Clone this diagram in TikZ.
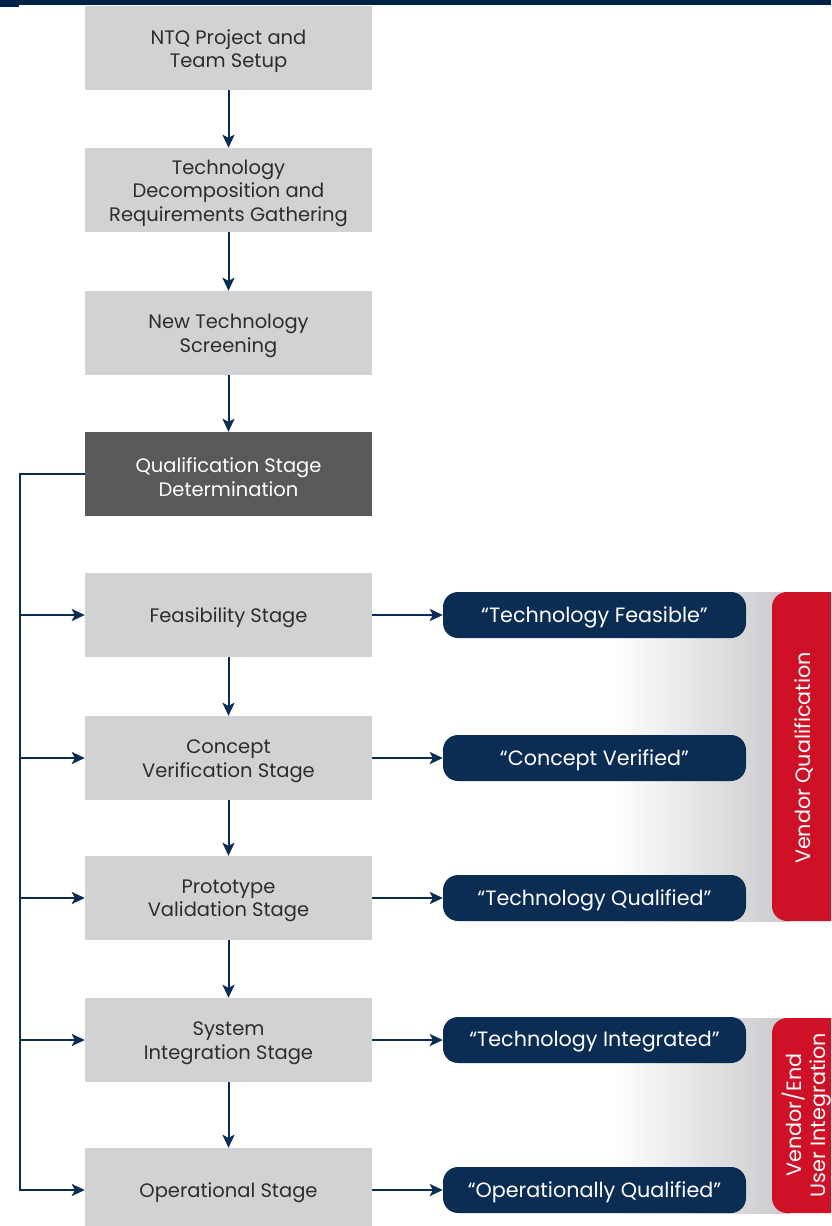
\documentclass[tikz,border=0pt]{standalone}
\usepackage{fontspec}
\setmainfont{Poppins}
\usetikzlibrary{arrows.meta}
\definecolor{boxgray}{RGB}{209,210,212}
\definecolor{darkbox}{RGB}{88,89,91}
\definecolor{navy}{RGB}{11,45,84}
\definecolor{topnavy}{RGB}{0,33,71}
\definecolor{vred}{RGB}{206,17,38}
\definecolor{bandgray}{RGB}{200,201,204}
\definecolor{txt}{RGB}{45,45,47}
\begin{document}
\begin{tikzpicture}[x=1pt,y=-1pt,
  stagebox/.style={fill=boxgray, minimum width=287pt, minimum height=84pt, inner sep=0pt},
  darkstage/.style={stagebox, fill=darkbox},
  stagetext/.style={yshift=-3pt, align=center, inner sep=0pt, text=txt, font=\fontsize{19.5}{23.5}\selectfont},
  darktext/.style={stagetext, text=white},
  resultbox/.style={fill=navy, rounded corners=15pt, minimum width=303pt, minimum height=46pt, inner sep=0pt},
  resulttext/.style={yshift=-2pt, inner sep=0pt, text=white, font=\fontsize{20.7}{24}\selectfont},
  redtext/.style={rotate=90, text=white, align=center, inner sep=0pt, font=\fontsize{20.7}{23.5}\selectfont},
  conn/.style={draw=navy, line width=2pt},
  arr/.style={conn, -{Stealth[length=13pt, width=12pt, inset=3pt]}}
]
\clip (0,0) rectangle (831,1226);
\fill[white] (0,0) rectangle (831,1226);
% gradient bands and red bars
\shade[left color=white, right color=bandgray] (612,592) rectangle (790,921);
\shade[left color=white, right color=bandgray] (612,1018) rectangle (790,1213);
\fill[vred, rounded corners=15pt] (772,592) rectangle (870,921);
\fill[vred, rounded corners=15pt] (772,1018) rectangle (870,1213);
\node[redtext] (q1) at (804,758) {Vendor Qualification};
\node[redtext] (q2) at (806.5,1115) {Vendor/End\\User Integration};
% top bar
\fill[topnavy] (0,0) rectangle (831,5);
\fill[topnavy] (0,0) rectangle (19,7);
% stage boxes
\node[stagebox] (s1) at (228.5,48) {};
\node[stagebox] (s2) at (228.5,190) {};
\node[stagebox] (s3) at (228.5,333) {};
\node[darkstage] (s4) at (228.5,474) {};
\node[stagebox] (s5) at (228.5,615) {};
\node[stagebox] (s6) at (228.5,758) {};
\node[stagebox] (s7) at (228.5,898) {};
\node[stagebox] (s8) at (228.5,1040) {};
\node[stagebox] (s9) at (228.5,1190) {};
\node[stagetext] (t1) at (s1) {NTQ Project and\\Team Setup};
\node[stagetext] (t2) at (s2) {Technology\\Decomposition and\\Requirements Gathering};
\node[stagetext] (t3) at (s3) {New Technology\\Screening};
\node[darktext] (t4) at (s4) {Qualification Stage\\Determination};
\node[stagetext] (t5) at (s5) {Feasibility Stage};
\node[stagetext] (t6) at (s6) {Concept\\Verification Stage};
\node[stagetext] (t7) at (s7) {Prototype\\Validation Stage};
\node[stagetext] (t8) at (s8) {System\\Integration Stage};
\node[stagetext] (t9) at (s9) {Operational Stage};
% result boxes
\node[resultbox] (r1) at (594.5,615) {};
\node[resultbox] (r2) at (594.5,758) {};
\node[resultbox] (r3) at (594.5,898) {};
\node[resultbox] (r4) at (594.5,1040) {};
\node[resultbox] (r5) at (594.5,1190) {};
\node[resulttext] (u1) at (r1) {“Technology Feasible”};
\node[resulttext] (u2) at (r2) {“Concept Verified”};
\node[resulttext] (u3) at (r3) {“Technology Qualified”};
\node[resulttext] (u4) at (r4) {“Technology Integrated”};
\node[resulttext] (u5) at (r5) {“Operationally Qualified”};
% vertical flow
\draw[arr] (s1) -- (s2);
\draw[arr] (s2) -- (s3);
\draw[arr] (s3) -- (s4);
\draw[arr] (s5) -- (s6);
\draw[arr] (s6) -- (s7);
\draw[arr] (s7) -- (s8);
\draw[arr] (s8) -- (s9);
% left bus
\coordinate (L4) at (20,474);
\coordinate (L9) at (20,1190);
\draw[arr] (s4.west) -- (L4) -- (L9) -- (s9.west);
\draw[arr] (L4 |- s5.west) -- (s5.west);
\draw[arr] (L4 |- s6.west) -- (s6.west);
\draw[arr] (L4 |- s7.west) -- (s7.west);
\draw[arr] (L4 |- s8.west) -- (s8.west);
% right arrows
\draw[arr] (s5.east) -- (r1.west);
\draw[arr] (s6.east) -- (r2.west);
\draw[arr] (s7.east) -- (r3.west);
\draw[arr] (s8.east) -- (r4.west);
\draw[arr] (s9.east) -- (r5.west);
\end{tikzpicture}
\end{document}
